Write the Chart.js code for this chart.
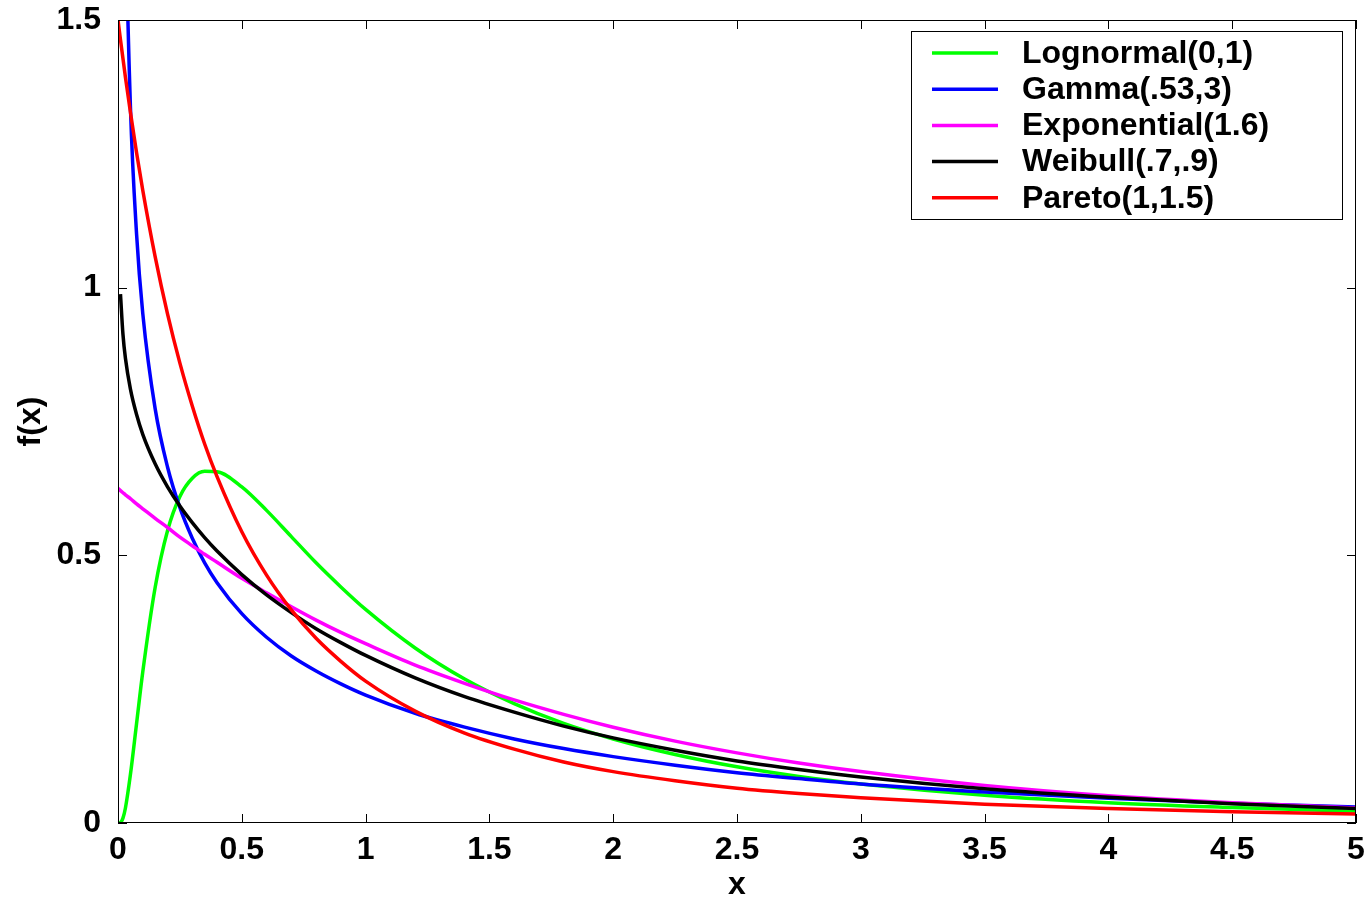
<!DOCTYPE html>
<html>
<head>
<meta charset="utf-8">
<script src="https://cdn.jsdelivr.net/npm/chart.js@4/dist/chart.umd.min.js"></script>
<style>
  html, body { margin: 0; padding: 0; background: #fff; }
  #wrap { width: 1372px; height: 901px; }
</style>
</head>
<body>
<div id="wrap"><canvas id="pdfChart" width="1372" height="901"></canvas></div>
<script>
// sample positions along x
const xValues = [0, 0.01, 0.02, 0.03, 0.05, 0.075, 0.1, 0.15, 0.2, 0.25, 0.3, 0.35, 0.4, 0.5, 0.6, 0.7, 0.8, 0.9,
                 1, 1.2, 1.4, 1.6, 1.8, 2, 2.25, 2.5, 2.75, 3, 3.5, 4, 4.5, 5];

// density values for each distribution (null = not plotted)
const lognormal = [0, 0.001, 0.009, 0.028, 0.090, 0.186, 0.282, 0.440, 0.546, 0.610, 0.644, 0.657, 0.656, 0.628, 0.584, 0.535, 0.486, 0.441,
                   0.399, 0.327, 0.269, 0.223, 0.186, 0.157, 0.128, 0.105, 0.087, 0.073, 0.052, 0.038, 0.029, 0.022];
const gamma = [null, 2.90, 2.08, 1.72, 1.34, 1.10, 0.952, 0.774, 0.665, 0.589, 0.532, 0.486, 0.449, 0.391, 0.347, 0.312, 0.284, 0.260,
               0.239, 0.205, 0.179, 0.157, 0.139, 0.124, 0.108, 0.094, 0.083, 0.073, 0.058, 0.046, 0.037, 0.030];
const exponential = [0.625, 0.621, 0.617, 0.613, 0.606, 0.596, 0.587, 0.569, 0.552, 0.534, 0.518, 0.502, 0.487, 0.457, 0.430, 0.404, 0.379, 0.356,
                     0.335, 0.295, 0.261, 0.230, 0.203, 0.179, 0.153, 0.131, 0.112, 0.096, 0.070, 0.051, 0.038, 0.028];
const weibull = [null, 0.988, 0.913, 0.868, 0.811, 0.763, 0.726, 0.671, 0.628, 0.592, 0.561, 0.533, 0.508, 0.464, 0.426, 0.393, 0.363, 0.337,
                 0.313, 0.271, 0.236, 0.207, 0.181, 0.159, 0.136, 0.116, 0.100, 0.086, 0.064, 0.048, 0.036, 0.027];
const pareto = [1.5, 1.463, 1.428, 1.393, 1.328, 1.252, 1.182, 1.058, 0.951, 0.859, 0.779, 0.708, 0.647, 0.544, 0.463, 0.398, 0.345, 0.302,
                0.265, 0.209, 0.168, 0.138, 0.114, 0.096, 0.079, 0.065, 0.055, 0.047, 0.035, 0.027, 0.021, 0.017];

const seriesLabels = ['Lognormal(0,1)', 'Gamma(.53,3)', 'Exponential(1.6)', 'Weibull(.7,.9)', 'Pareto(1,1.5)'];
const seriesColors = ['#00ff00', '#0000ff', '#ff00ff', '#000000', '#ff0000'];
const seriesValues = [lognormal, gamma, exponential, weibull, pareto];

const xTicks = [0, 0.5, 1, 1.5, 2, 2.5, 3, 3.5, 4, 4.5, 5];
const yTicks = [0, 0.5, 1, 1.5];

const FONT = 'Liberation Sans, Arial, Helvetica, sans-serif';

const toPoints = ys => xValues.map((x, i) => ({x: x, y: ys[i]})).filter(p => p.y !== null);

// box around the axes with inward ticks on all four sides
const frameBox = {
    id: 'frameBox',
    afterDatasetsDraw(chart) {
        const {ctx, chartArea: a, scales} = chart;
        const len = 9;
        ctx.save();
        ctx.strokeStyle = '#000';
        ctx.lineWidth = 1;
        ctx.strokeRect(a.left + 0.5, a.top + 0.5, a.right - a.left - 1, a.bottom - a.top - 1);
        ctx.beginPath();
        xTicks.forEach(v => {
            const px = Math.round(scales.x.getPixelForValue(v)) + 0.5;
            ctx.moveTo(px, a.bottom); ctx.lineTo(px, a.bottom - len);
            ctx.moveTo(px, a.top); ctx.lineTo(px, a.top + len);
        });
        yTicks.forEach(v => {
            const py = Math.round(scales.y.getPixelForValue(v)) + 0.5;
            ctx.moveTo(a.left, py); ctx.lineTo(a.left + len, py);
            ctx.moveTo(a.right, py); ctx.lineTo(a.right - len, py);
        });
        ctx.stroke();
        ctx.restore();
    }
};

// legend box in the upper right corner of the axes
const legendBox = {
    id: 'legendBox',
    afterDraw(chart) {
        const ctx = chart.ctx;
        const box = {x: 911, y: 31, w: 431, h: 188};
        ctx.save();
        ctx.fillStyle = '#fff';
        ctx.fillRect(box.x, box.y, box.w, box.h);
        ctx.strokeStyle = '#000';
        ctx.lineWidth = 1;
        ctx.strokeRect(box.x + 0.5, box.y + 0.5, box.w, box.h);
        ctx.font = 'bold 32px ' + FONT;
        ctx.textBaseline = 'middle';
        ctx.textAlign = 'left';
        chart.data.datasets.forEach((ds, i) => {
            const y = 53 + i * 36.2;
            ctx.strokeStyle = ds.borderColor;
            ctx.lineWidth = 3.5;
            ctx.beginPath();
            ctx.moveTo(932, y);
            ctx.lineTo(998, y);
            ctx.stroke();
            ctx.fillStyle = '#000';
            ctx.fillText(ds.label, 1022, y + 1);
        });
        ctx.restore();
    }
};

const ctx = document.getElementById('pdfChart').getContext('2d');
new Chart(ctx, {
    type: 'line',
    data: {
        datasets: seriesValues.map((ys, i) => ({
            label: seriesLabels[i],
            data: toPoints(ys),
            borderColor: seriesColors[i],
            backgroundColor: seriesColors[i],
            borderWidth: 3.5,
            pointRadius: 0,
            fill: false,
            cubicInterpolationMode: 'monotone',
            order: seriesValues.length - i
        }))
    },
    options: {
        responsive: false,
        animation: false,
        devicePixelRatio: 1,
        layout: {padding: {left: 0, right: 16, top: 20, bottom: 0}},
        plugins: {
            legend: {display: false},
            tooltip: {enabled: false}
        },
        scales: {
            x: {
                type: 'linear',
                min: 0,
                max: 5,
                afterBuildTicks: scale => { scale.ticks = xTicks.map(v => ({value: v})); },
                afterFit: scale => {
                    scale.height = 78;
                    scale.paddingLeft = 0;
                    scale.paddingRight = 0;
                },
                grid: {display: false, drawTicks: false},
                border: {display: false},
                ticks: {
                    color: '#000',
                    font: {family: FONT, size: 32, weight: 'bold'},
                    padding: 8,
                    maxRotation: 0,
                    callback: v => String(v)
                },
                title: {
                    display: true,
                    text: 'x',
                    color: '#000',
                    font: {family: FONT, size: 32, weight: 'bold'},
                    padding: {top: 0, bottom: -3}
                }
            },
            y: {
                min: 0,
                max: 1.5,
                afterBuildTicks: scale => { scale.ticks = yTicks.map(v => ({value: v})); },
                afterFit: scale => {
                    scale.width = 118;
                    scale.paddingTop = 0;
                    scale.paddingBottom = 0;
                },
                grid: {display: false, drawTicks: false},
                border: {display: false},
                ticks: {
                    color: '#000',
                    font: {family: FONT, size: 32, weight: 'bold'},
                    padding: 17,
                    callback: v => String(v)
                },
                title: {
                    display: true,
                    text: 'f(x)',
                    color: '#000',
                    font: {family: FONT, size: 32, weight: 'bold'},
                    padding: {top: 12, bottom: 0}
                }
            }
        }
    },
    plugins: [frameBox, legendBox]
});
</script>
</body>
</html>
